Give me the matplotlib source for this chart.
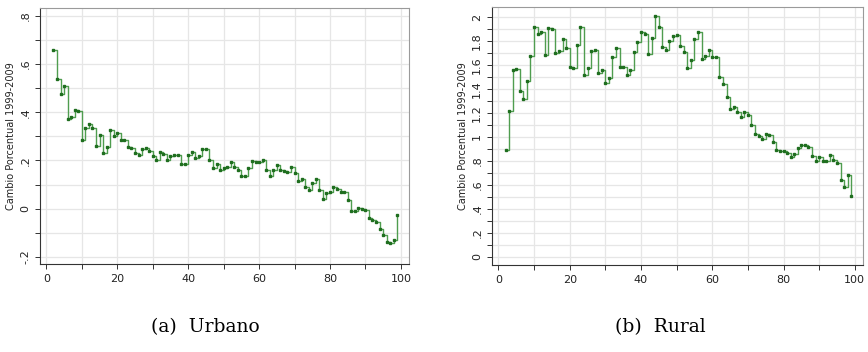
import matplotlib
matplotlib.use("Agg")
import matplotlib.pyplot as plt
from matplotlib.ticker import MultipleLocator, FuncFormatter

percentiles = list(range(2, 100))

urbano = [0.66, 0.54, 0.476, 0.51, 0.374, 0.38, 0.41, 0.404, 0.286, 0.335,
          0.353, 0.335, 0.259, 0.307, 0.231, 0.256, 0.325, 0.30, 0.314, 0.284,
          0.286, 0.255, 0.25, 0.231, 0.221, 0.248, 0.25, 0.238, 0.217, 0.20,
          0.235, 0.228, 0.203, 0.217, 0.224, 0.224, 0.187, 0.187, 0.224, 0.235,
          0.21, 0.217, 0.248, 0.248, 0.20, 0.169, 0.187, 0.159, 0.169, 0.173,
          0.192, 0.172, 0.162, 0.134, 0.137, 0.169, 0.197, 0.194, 0.192, 0.20,
          0.162, 0.137, 0.162, 0.18, 0.162, 0.155, 0.151, 0.172, 0.148, 0.113,
          0.123, 0.09, 0.079, 0.107, 0.125, 0.079, 0.04, 0.065, 0.068, 0.09,
          0.082, 0.069, 0.068, 0.037, -0.011, -0.011, 0.003, -0.001, -0.007, -0.039,
          -0.048, -0.057, -0.084, -0.108, -0.14, -0.143, -0.13, -0.025]

rural = [0.893, 1.22, 1.555, 1.566, 1.38, 1.316, 1.47, 1.677, 1.917, 1.86,
         1.875, 1.683, 1.908, 1.903, 1.70, 1.72, 1.816, 1.74, 1.58, 1.572,
         1.77, 1.914, 1.519, 1.574, 1.713, 1.722, 1.533, 1.555, 1.449, 1.49,
         1.666, 1.74, 1.58, 1.583, 1.519, 1.555, 1.705, 1.79, 1.875, 1.858,
         1.69, 1.825, 2.01, 1.914, 1.747, 1.722, 1.797, 1.84, 1.847, 1.755,
         1.708, 1.574, 1.644, 1.816, 1.872, 1.652, 1.677, 1.727, 1.666, 1.663,
         1.497, 1.444, 1.33, 1.232, 1.246, 1.204, 1.163, 1.207, 1.18, 1.10,
         1.026, 1.004, 0.982, 1.026, 1.018, 0.957, 0.893, 0.879, 0.885, 0.865,
         0.837, 0.857, 0.912, 0.935, 0.929, 0.915, 0.843, 0.80, 0.832, 0.80,
         0.80, 0.851, 0.81, 0.782, 0.643, 0.581, 0.684, 0.509]

ylabel = "Cambio Porcentual 1999-2009"
captions = ["(a)  Urbano", "(b)  Rural"]

W, H = 868, 352
fig = plt.figure(figsize=(W / 100, H / 100), dpi=100)

def fmt(v, pos):
    s = f"{v:g}"
    if s.startswith("0."):
        s = s[1:]
    elif s.startswith("-0."):
        s = "-" + s[2:]
    return s

def panel(rect, y, ylim, cap, capx):
    ax = fig.add_axes(rect)
    ax.plot(percentiles, y, drawstyle="steps-post", color="#4f9d4f", lw=1.0,
            zorder=3)
    ax.plot(percentiles, y, ls="none", marker="s", ms=1.7, color="#1f6e1f",
            zorder=4)
    ax.set_xlim(-1.8, 102.3)
    ax.set_ylim(*ylim)
    ax.xaxis.set_major_locator(MultipleLocator(20))
    ax.xaxis.set_minor_locator(MultipleLocator(10))
    ax.yaxis.set_major_locator(MultipleLocator(0.2))
    ax.yaxis.set_minor_locator(MultipleLocator(0.1))
    ax.yaxis.set_major_formatter(FuncFormatter(fmt))
    ax.grid(True, which="both", color="#e6e6e6", lw=0.9, zorder=0)
    ax.set_axisbelow(True)
    for s in ["top", "right"]:
        ax.spines[s].set_color("#9a9a9a")
        ax.spines[s].set_linewidth(0.8)
    for s in ["left", "bottom"]:
        ax.spines[s].set_color("#333333")
        ax.spines[s].set_linewidth(0.8)
    ax.tick_params(which="both", direction="out", color="#333333", width=0.7,
                   labelsize=8, labelcolor="#222222", length=3.5)
    for lab in ax.get_yticklabels():
        lab.set_rotation(90)
        lab.set_va("center")
    ax.set_ylabel(ylabel, fontsize=7, color="#222222", labelpad=3)
    fig.text(capx, 0.071, cap, ha="center", va="center", fontsize=13.5,
             family="DejaVu Serif")
    return ax

panel([40 / W, 1 - 264 / H, 369 / W, 256 / H], urbano, (-0.23, 0.833),
      captions[0], 205 / W)
panel([492 / W, 1 - 265 / H, 371 / W, 258 / H], rural, (-0.067, 2.083),
      captions[1], 660 / W)

fig.savefig("out.png", dpi=100)
